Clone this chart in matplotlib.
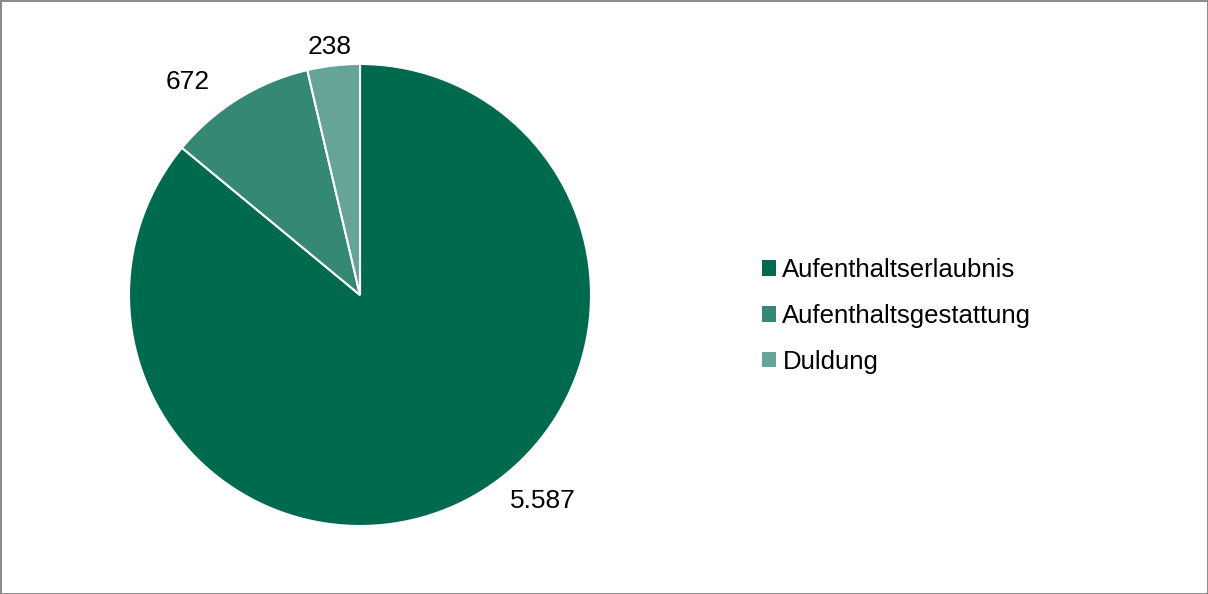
import matplotlib.pyplot as plt
from matplotlib.patches import Patch

plt.rcParams['font.family'] = ['Liberation Sans', 'DejaVu Sans']

categories = ['Aufenthaltserlaubnis', 'Aufenthaltsgestattung', 'Duldung']
values = [5587, 672, 238]
colors = ['#006a4e', '#358874', '#66a497']

# label positions (in pie radius units)
label_pos = [(0.79, -0.89), (-0.745, 0.92), (-0.13, 1.075)]


def fmt(v):
    return f'{v:,}'.replace(',', '.')


W, H = 1208, 594
fig = plt.figure(figsize=(W / 100, H / 100), dpi=100)
fig.patch.set_edgecolor('#8c8c8c')
fig.patch.set_linewidth(2)

cx, cy, r = 360, 295, 231
ax = fig.add_axes([(cx - r) / W, (H - cy - r) / H, 2 * r / W, 2 * r / H])
ax.pie(values, colors=colors, startangle=90, counterclock=False, radius=1,
       wedgeprops=dict(edgecolor='white', linewidth=1.5))
ax.set_xlim(-1, 1)
ax.set_ylim(-1, 1)
ax.set_aspect('equal')
ax.axis('off')

for v, (x, y) in zip(values, label_pos):
    ax.text(x, y, fmt(v), ha='center', va='center', fontsize=19, color='black',
            clip_on=False)

handles = [Patch(facecolor=c, edgecolor='none') for c in colors]
fig.legend(handles, categories, loc='center left',
           bbox_to_anchor=(749 / W, 1 - 316 / H), frameon=False,
           fontsize=18.5, handlelength=0.55, handleheight=0.55,
           handletextpad=0.25, labelspacing=0.85, borderpad=0)

fig.savefig('out.png', dpi=100, edgecolor=fig.get_edgecolor())
